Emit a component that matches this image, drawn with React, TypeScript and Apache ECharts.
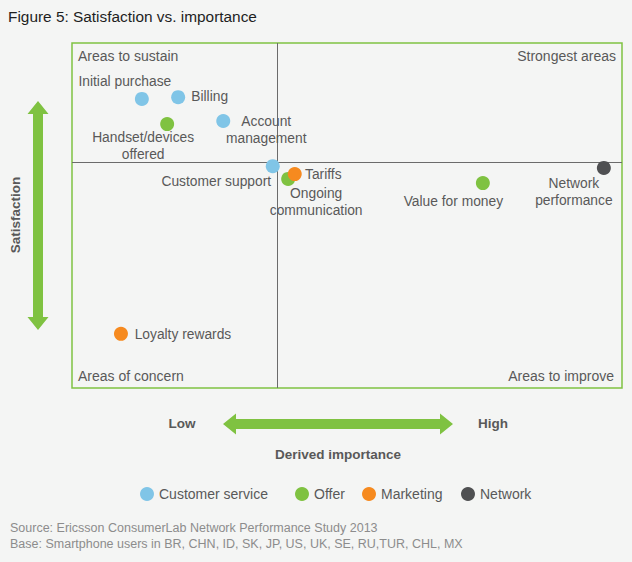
import React, { useEffect, useRef } from "react";
import * as echarts from "echarts";

const seriesNames = ["Customer service", "Offer", "Marketing", "Network"];
const seriesColors = ["#80c5e7", "#7fc241", "#f68a1f", "#4f5052"];

const customerServiceNames = ["Initial purchase", "Billing", "Account\nmanagement", "Customer support"];
const customerServiceValues = [[12.7, 83.8], [19.3, 84.3], [27.5, 77.4], [36.5, 64.3]];
const offerNames = ["Handset/devices\noffered", "Ongoing\ncommunication", "Value for money"];
const offerValues = [[17.3, 76.5], [39.3, 60.6], [74.7, 59.4]];
const marketingNames = ["Tariffs", "Loyalty rewards"];
const marketingValues = [[40.5, 62.0], [8.9, 15.7]];
const networkNames = ["Network\nperformance"];
const networkValues = [[96.7, 63.8]];

const labelOffsets: Record<string, number[]> = {
  "Initial purchase": [-17, -17],
  "Billing": [31.5, -1],
  "Account\nmanagement": [43, 9.5],
  "Customer support": [-56.5, 15],
  "Handset/devices\noffered": [-24, 21.5],
  "Ongoing\ncommunication": [28, 23.5],
  "Value for money": [-29.5, 18],
  "Tariffs": [28.5, 0],
  "Loyalty rewards": [62, 1],
  "Network\nperformance": [-30, 24.5],
};

const quadrantX = 37.3;
const quadrantY = 65.5;

const FONT = "'Liberation Sans', Arial, Helvetica, sans-serif";
const TEXT = "#595959";
const GREEN = "#7fc241";

function makeData(names: string[], values: number[][]) {
  return names.map((n, i) => ({
    name: n,
    value: values[i],
    label: { offset: labelOffsets[n] },
  }));
}

export default function App() {
  const ref = useRef<HTMLDivElement>(null);
  useEffect(() => {
    const chart = echarts.init(ref.current!, undefined, { renderer: "svg" });
    const groups = [
      makeData(customerServiceNames, customerServiceValues),
      makeData(offerNames, offerValues),
      makeData(marketingNames, marketingValues),
      makeData(networkNames, networkValues),
    ];
    const legendLefts = [140, 295, 362, 461];
    const arrowV = (cx: number, y1: number, y2: number) => {
      const hw = 10.5, sw = 5, hl = 13;
      return [
        [cx, y1], [cx + hw, y1 + hl], [cx + sw, y1 + hl], [cx + sw, y2 - hl],
        [cx + hw, y2 - hl], [cx, y2], [cx - hw, y2 - hl], [cx - sw, y2 - hl],
        [cx - sw, y1 + hl], [cx - hw, y1 + hl],
      ];
    };
    const arrowH = (cy: number, x1: number, x2: number) => {
      const hw = 10.5, sw = 5, hl = 13;
      return [
        [x1, cy], [x1 + hl, cy - hw], [x1 + hl, cy - sw], [x2 - hl, cy - sw],
        [x2 - hl, cy - hw], [x2, cy], [x2 - hl, cy + hw], [x2 - hl, cy + sw],
        [x1 + hl, cy + sw], [x1 + hl, cy + hw],
      ];
    };
    chart.setOption({
      animation: false,
      backgroundColor: "#f4f5f4",
      textStyle: { fontFamily: FONT },
      grid: {
        left: 72,
        top: 43,
        width: 550,
        height: 345,
        show: true,
        borderColor: GREEN,
        borderWidth: 1.5,
        backgroundColor: "transparent",
      },
      xAxis: { type: "value", min: 0, max: 100, show: false },
      yAxis: { type: "value", min: 0, max: 100, show: false },
      legend: seriesNames.map((n, i) => ({
        data: [n],
        left: legendLefts[i],
        top: 487,
        padding: 0,
        icon: "circle",
        itemWidth: 14,
        itemHeight: 14,
        textStyle: { color: TEXT, fontSize: 14, fontFamily: FONT },
      })),
      series: seriesNames.map((n, i) => ({
        name: n,
        type: "scatter",
        symbol: "circle",
        symbolSize: 14,
        itemStyle: { color: seriesColors[i], opacity: 1 },
        z: 3 + i,
        label: {
          show: true,
          position: "inside",
          formatter: "{b}",
          color: TEXT,
          fontSize: 13.8,
          fontFamily: FONT,
          align: "center",
          verticalAlign: "middle",
          lineHeight: 17,
        },
        emphasis: { disabled: true },
        data: groups[i],
        ...(i === 0
          ? {
              markLine: {
                silent: true,
                symbol: "none",
                label: { show: false },
                lineStyle: { color: "#6b6b6b", width: 1, type: "solid" },
                data: [{ xAxis: quadrantX }, { yAxis: quadrantY }],
                z: 1,
              },
            }
          : {}),
      })),
      graphic: [
        { type: "text", left: 8, top: 9, style: { text: "Figure 5: Satisfaction vs. importance", fill: "#1e1e1e", fontSize: 15.4, fontFamily: FONT } },
        { type: "text", left: 78, top: 49, style: { text: "Areas to sustain", fill: TEXT, fontSize: 14, fontFamily: FONT } },
        { type: "text", right: 16, top: 49, style: { text: "Strongest areas", fill: TEXT, fontSize: 14, fontFamily: FONT } },
        { type: "text", left: 78, top: 369, style: { text: "Areas of concern", fill: TEXT, fontSize: 14, fontFamily: FONT } },
        { type: "text", right: 18, top: 369, style: { text: "Areas to improve", fill: TEXT, fontSize: 14, fontFamily: FONT } },
        { type: "polygon", shape: { points: arrowV(38, 101, 330) }, style: { fill: GREEN } },
        { type: "polygon", shape: { points: arrowH(424, 223, 453) }, style: { fill: GREEN } },
        { type: "text", x: 15, y: 215, rotation: Math.PI / 2, style: { text: "Satisfaction", fill: TEXT, fontSize: 13.5, fontWeight: "bold", fontFamily: FONT, align: "center", verticalAlign: "middle" } },
        { type: "text", x: 182, y: 423, style: { text: "Low", fill: TEXT, fontSize: 13.5, fontWeight: "bold", fontFamily: FONT, align: "center", verticalAlign: "middle" } },
        { type: "text", x: 493, y: 423, style: { text: "High", fill: TEXT, fontSize: 13.5, fontWeight: "bold", fontFamily: FONT, align: "center", verticalAlign: "middle" } },
        { type: "text", x: 338, y: 454, style: { text: "Derived importance", fill: TEXT, fontSize: 13.5, fontWeight: "bold", fontFamily: FONT, align: "center", verticalAlign: "middle" } },
        { type: "text", left: 10, top: 521, style: { text: "Source: Ericsson ConsumerLab Network Performance Study 2013", fill: "#8c8c8c", fontSize: 12.5, fontFamily: FONT } },
        { type: "text", left: 10, top: 537, style: { text: "Base: Smartphone users in BR, CHN, ID, SK, JP, US, UK, SE, RU,TUR, CHL, MX", fill: "#8c8c8c", fontSize: 12.5, fontFamily: FONT } },
      ],
    });
    return () => chart.dispose();
  }, []);
  return (
    <div
      ref={ref}
      style={{ position: "fixed", left: 0, top: 0, width: 632, height: 562 }}
    />
  );
}
